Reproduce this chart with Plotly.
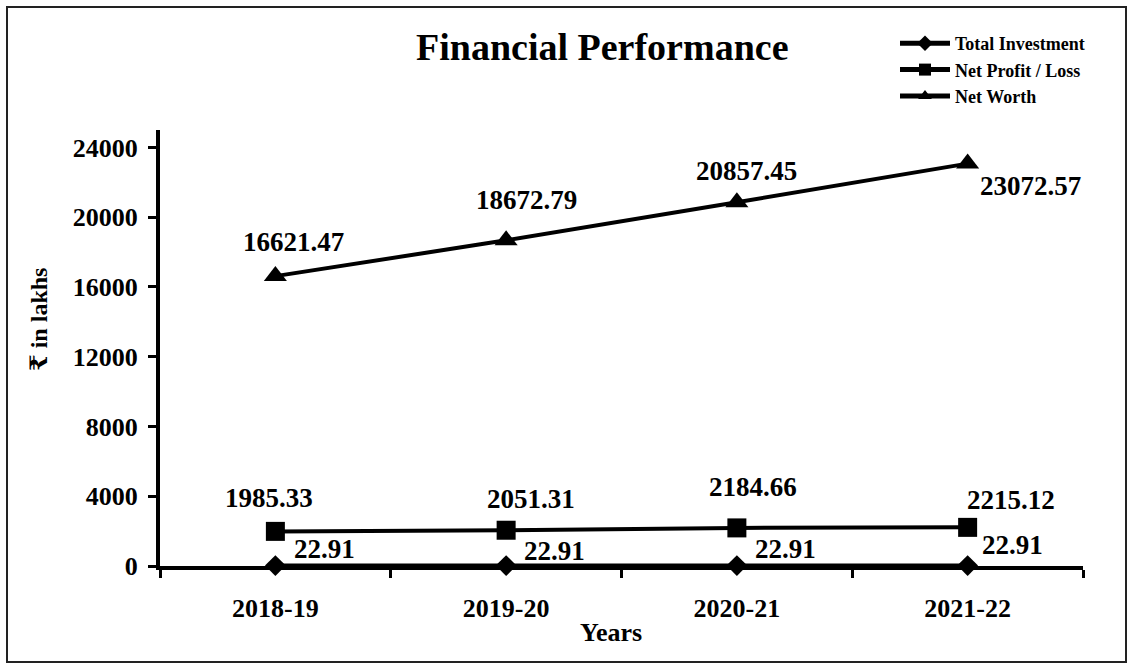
import plotly.graph_objects as go

years = ["2018-19", "2019-20", "2020-21", "2021-22"]
total_investment = [22.91, 22.91, 22.91, 22.91]
net_profit = [1985.33, 2051.31, 2184.66, 2215.12]
net_worth = [16621.47, 18672.79, 20857.45, 23072.57]
y_ticks = [0, 4000, 8000, 12000, 16000, 20000, 24000]

FONT = "Liberation Serif, Times New Roman, DejaVu Serif, serif"
L, R, T, B = 160, 51, 130, 100
W, H = 1134, 666
PW, PH = W - L - R, H - T - B

def px(x):
    return (x - L) / PW

def py(y):
    return (H - B - y) / PH

series = [
    ("Total Investment", total_investment, "diamond", 16, [(49, -17), (48, -15), (49, -17), (45, -21)]),
    ("Net Profit / Loss", net_profit, "square", 19, [(-6, -33), (25, -31), (16, -41), (43, -27)]),
    ("Net Worth", net_worth, "triangle-up", 20, [(18, -34), (20, -40), (10, -31), (63, 22)]),
]

fig = go.Figure()
annotations = []
for name, vals, sym, size, offs in series:
    fig.add_trace(go.Scatter(
        x=years, y=vals, name=name, mode="lines+markers",
        line=dict(color="black", width=4),
        marker=dict(symbol=sym, size=size, color="black"),
        cliponaxis=False,
    ))
    for xv, yv, (dx, dy) in zip(years, vals, offs):
        annotations.append(dict(
            x=xv, y=yv, xref="x", yref="y", text=f"<b>{yv:.2f}</b>", showarrow=False,
            xshift=dx, yshift=-dy, font=dict(family=FONT, size=27, color="black"),
        ))

annotations.append(dict(
    x=px(602), y=py(47), xref="paper", yref="paper", text="<b>Financial Performance</b>",
    showarrow=False, font=dict(family=FONT, size=38, color="black"),
    xanchor="center", yanchor="middle",
))
annotations.append(dict(
    x=px(39), y=py(320), xref="paper", yref="paper", text="<b>₹ in lakhs</b>",
    showarrow=False, textangle=-90, font=dict(family=FONT, size=24, color="black"),
    xanchor="center", yanchor="middle",
))
annotations.append(dict(
    x=px(611), y=py(632), xref="paper", yref="paper", text="<b>Years</b>",
    showarrow=False, font=dict(family=FONT, size=26, color="black"),
    xanchor="center", yanchor="middle",
))

fig.update_layout(
    width=W, height=H,
    margin=dict(l=L, r=R, t=T, b=B, pad=0),
    paper_bgcolor="white", plot_bgcolor="white",
    showlegend=True,
    legend=dict(
        x=px(895), y=py(25), xanchor="left", yanchor="top",
        font=dict(family=FONT, size=18, color="black", weight="bold"),
        bgcolor="rgba(0,0,0,0)", itemsizing="constant", itemwidth=50,
        tracegroupgap=0,
    ),
    annotations=annotations,
    shapes=[dict(
        type="rect", xref="paper", yref="paper",
        x0=px(7), x1=px(1126), y0=py(662), y1=py(7),
        line=dict(color="#222", width=2), layer="below",
    )],
    xaxis=dict(
        type="category", range=[-0.5, 3.5],
        showline=True, linecolor="black", linewidth=4,
        ticks="outside", tickson="boundaries", ticklen=8, tickwidth=3, tickcolor="black",
        showgrid=False, zeroline=False,
        tickfont=dict(family=FONT, size=26, color="black", weight="bold"),
        ticklabelstandoff=16,
    ),
    yaxis=dict(
        range=[0, 25000], tickvals=y_ticks, ticktext=[str(v) for v in y_ticks],
        showline=True, linecolor="black", linewidth=4,
        ticks="outside", ticklen=8, tickwidth=3, tickcolor="black",
        showgrid=False, zeroline=False,
        tickfont=dict(family=FONT, size=26, color="black", weight="bold"),
        ticklabelstandoff=5,
    ),
)

fig.write_html(
    "out.html",
    config={"displayModeBar": False},
    post_script="document.body.style.margin='0';document.body.style.overflow='hidden';",
)
